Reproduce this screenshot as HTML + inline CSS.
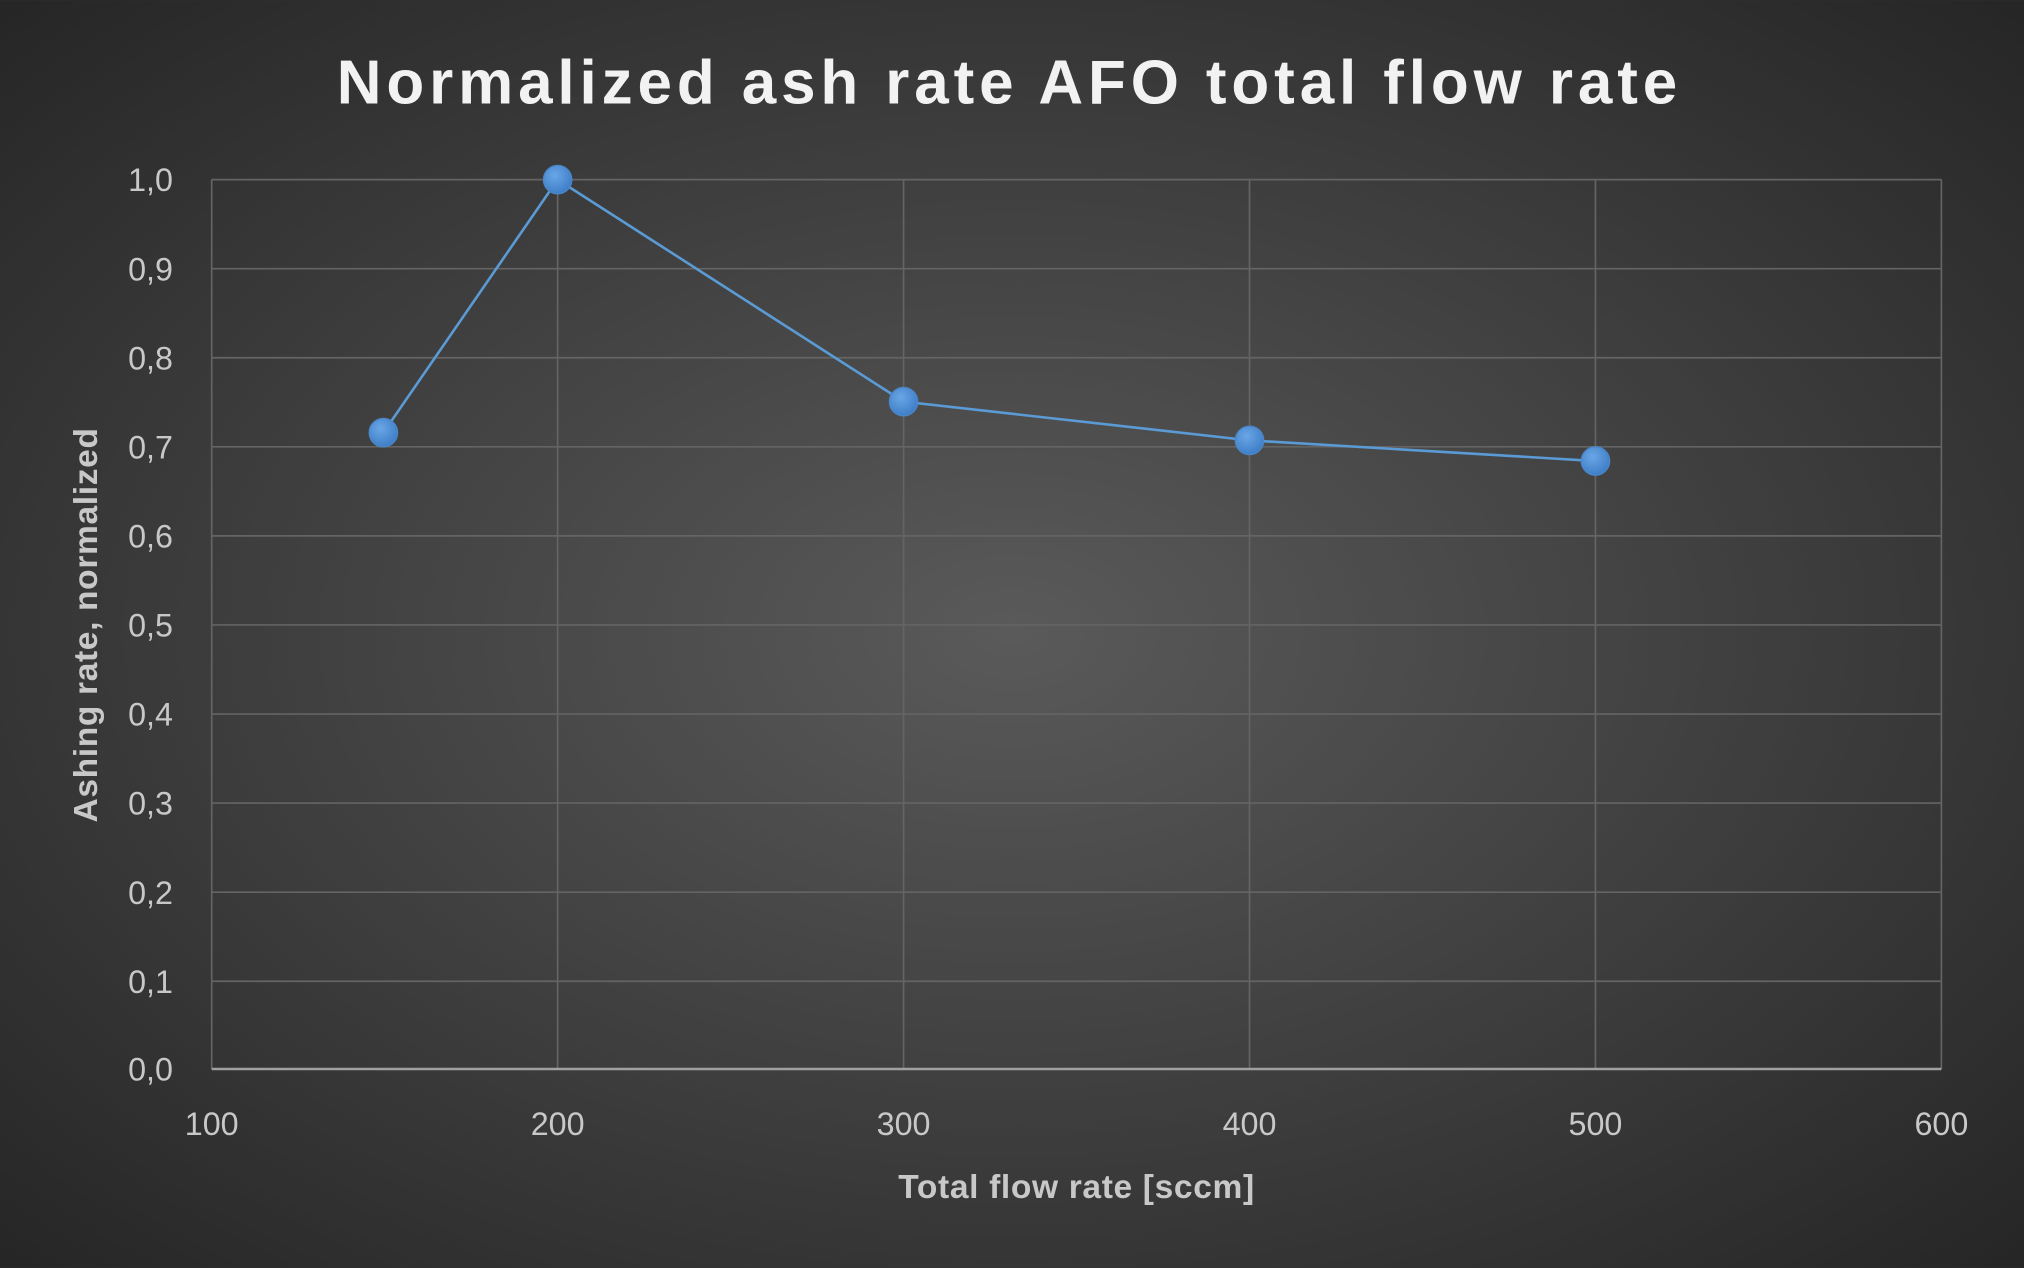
<!DOCTYPE html>
<html><head><meta charset="utf-8"><style>
html,body{margin:0;padding:0;width:2024px;height:1268px;overflow:hidden;background:#333;}
svg{display:block}
</style></head><body>
<svg width="2024" height="1268" viewBox="0 0 1568 982" xmlns="http://www.w3.org/2000/svg" font-family="'Liberation Sans', 'DejaVu Sans', sans-serif">
<defs>
<radialGradient id="bg" cx="50%" cy="50%" r="70%">
<stop offset="0" stop-color="#5a5a5a"/>
<stop offset="1" stop-color="#262626"/>
</radialGradient>
<radialGradient id="dot" cx="40%" cy="35%" r="65%">
<stop offset="0" stop-color="#6aa6e6"/>
<stop offset="1" stop-color="#3f7fc8"/>
</radialGradient>
</defs>
<rect width="1568" height="982" fill="url(#bg)"/>
<text x="782" y="80" text-anchor="middle" font-size="48" font-weight="bold" fill="#f2f2f2" letter-spacing="3.8">Normalized ash rate AFO total flow rate</text>
<g stroke="#646464" stroke-width="1.3">
<line x1="164" x2="1504" y1="139" y2="139"/>
<line x1="164" x2="1504" y1="208" y2="208"/>
<line x1="164" x2="1504" y1="277" y2="277"/>
<line x1="164" x2="1504" y1="346" y2="346"/>
<line x1="164" x2="1504" y1="415" y2="415"/>
<line x1="164" x2="1504" y1="484" y2="484"/>
<line x1="164" x2="1504" y1="553" y2="553"/>
<line x1="164" x2="1504" y1="622" y2="622"/>
<line x1="164" x2="1504" y1="691" y2="691"/>
<line x1="164" x2="1504" y1="760" y2="760"/>
<line x1="164" x2="164" y1="139" y2="828"/>
<line x1="432" x2="432" y1="139" y2="828"/>
<line x1="700" x2="700" y1="139" y2="828"/>
<line x1="968" x2="968" y1="139" y2="828"/>
<line x1="1236" x2="1236" y1="139" y2="828"/>
<line x1="1504" x2="1504" y1="139" y2="828"/>
</g>
<line x1="164" x2="1504" y1="828" y2="828" stroke="#a0a0a0" stroke-width="2"/>
<g font-size="25" fill="#c8c8c8" text-anchor="end">
<text x="134" y="148">1,0</text><text x="134" y="217">0,9</text><text x="134" y="286">0,8</text>
<text x="134" y="355">0,7</text><text x="134" y="424">0,6</text><text x="134" y="493">0,5</text>
<text x="134" y="562">0,4</text><text x="134" y="631">0,3</text><text x="134" y="700">0,2</text>
<text x="134" y="769">0,1</text><text x="134" y="837">0,0</text>
</g>
<g font-size="25" fill="#c8c8c8" text-anchor="middle">
<text x="164" y="879">100</text><text x="432" y="879">200</text><text x="700" y="879">300</text>
<text x="968" y="879">400</text><text x="1236" y="879">500</text><text x="1504" y="879">600</text>
</g>
<text x="834" y="928" text-anchor="middle" font-size="26" font-weight="bold" fill="#c8c8c8" letter-spacing="0.5">Total flow rate [sccm]</text>
<text transform="translate(75,484) rotate(-90)" text-anchor="middle" font-size="26" font-weight="bold" fill="#c8c8c8" letter-spacing="0.5">Ashing rate, normalized</text>
<polyline points="297,335 432,139 700,311 968,341 1236,357" fill="none" stroke="#5b9bd5" stroke-width="2"/>
<g fill="url(#dot)" stroke="#4a86c8" stroke-width="1">
<circle cx="297" cy="335" r="11"/><circle cx="432" cy="139" r="11"/><circle cx="700" cy="311" r="11"/>
<circle cx="968" cy="341" r="11"/><circle cx="1236" cy="357" r="11"/>
</g>
</svg>
</body></html>
